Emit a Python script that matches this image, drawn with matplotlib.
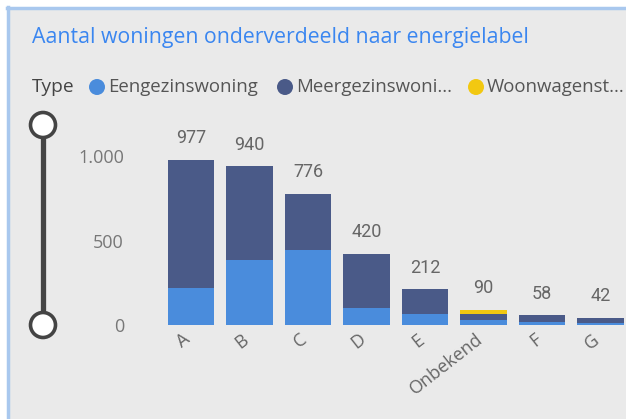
import matplotlib
matplotlib.use("Agg")
import matplotlib.pyplot as plt
from matplotlib.patches import Circle, Rectangle
from matplotlib.lines import Line2D
from matplotlib.transforms import ScaledTranslation

categories = ["A", "B", "C", "D", "E", "Onbekend", "F", "G"]
eengezins = [221, 385, 444, 102, 63, 28, 20, 12]
meergezins = [756, 555, 332, 318, 149, 40, 38, 30]
woonwagen = [0, 0, 0, 0, 0, 22, 0, 0]
totals = [977, 940, 776, 420, 212, 90, 58, 42]
yticks = [0, 500, 1000]
ytick_labels = ["0", "500", "1.000"]
series_names = ["Eengezinswoning", "Meergezinswoni...", "Woonwagenst..."]
colors = ["#4A8CDC", "#4A5A88", "#F2C811"]

W, H = 626, 419
fig = plt.figure(figsize=(W / 100, H / 100), dpi=100)
fig.patch.set_facecolor("white")

bg = fig.add_axes([0, 0, 1, 1])
bg.set_xlim(0, W)
bg.set_ylim(H, 0)
bg.axis("off")
bg.add_patch(Rectangle((7, 7), W, H, facecolor="#EAEAEA", edgecolor="none"))
bg.add_line(Line2D([8, 8], [7, H], color="#A9C8EE", lw=2.5))
bg.add_line(Line2D([7, W], [8, 8], color="#A9C8EE", lw=2.5))

fs = "Open Sans"
bg.text(32, 37, "Aantal woningen onderverdeeld naar energielabel", color="#3A86F0",
        fontsize=15.3, family=fs, va="center", ha="left")
bg.text(32, 87, "Type", color="#444444", fontsize=13.8, family=fs, va="center", ha="left")
leg_x = [97, 285, 476]
for x, name, c in zip(leg_x, series_names, colors):
    bg.add_patch(Circle((x, 87), 8, facecolor=c, edgecolor="none"))
    bg.text(x + 11, 87, name, color="#555555", fontsize=13.4, family=fs, va="center", ha="left")

bg.add_line(Line2D([43, 43], [125, 325], color="#444444", lw=3.8, solid_capstyle="butt"))
for yy in (125, 325):
    bg.add_patch(Circle((43, yy), 12.5, facecolor="white", edgecolor="#444444", lw=2.6, zorder=5))

L, R, T, B = 135, 626, 110, 325
ax = fig.add_axes([L / W, 1 - B / H, (R - L) / W, (B - T) / H])
ax.set_facecolor("none")
step = 58.5
ax.set_xlim((L - 191) / step, (R - 191) / step)
px_per_unit = 169 / 1000
ax.set_ylim(0, (B - T) / px_per_unit)

x = list(range(len(categories)))
bw = 0.79
ax.bar(x, eengezins, width=bw, color=colors[0])
ax.bar(x, meergezins, width=bw, bottom=eengezins, color=colors[1])
bot2 = [a + b for a, b in zip(eengezins, meergezins)]
ax.bar(x, woonwagen, width=bw, bottom=bot2, color=colors[2])

for xi, t in zip(x, totals):
    ax.annotate(str(t), (xi, t), xytext=(0, 15.5), textcoords="offset points",
                ha="center", va="center", fontsize=13, color="#666666", family="Roboto")

for s in ax.spines.values():
    s.set_visible(False)
ax.set_yticks(yticks)
ax.set_yticklabels(ytick_labels, family=fs, fontsize=13, color="#777777")
ax.tick_params(axis="y", length=0, pad=8)
ax.set_xticks(x)
ax.set_xticklabels(categories, rotation=38, ha="right", va="center", rotation_mode="anchor",
                   family=fs, fontsize=13, color="#666666")
ax.tick_params(axis="x", length=0, pad=9)
shift = ScaledTranslation(-3 / 100, 0, fig.dpi_scale_trans)
for lbl in ax.get_xticklabels():
    lbl.set_transform(lbl.get_transform() + shift)

fig.savefig("out.png", dpi=100)
